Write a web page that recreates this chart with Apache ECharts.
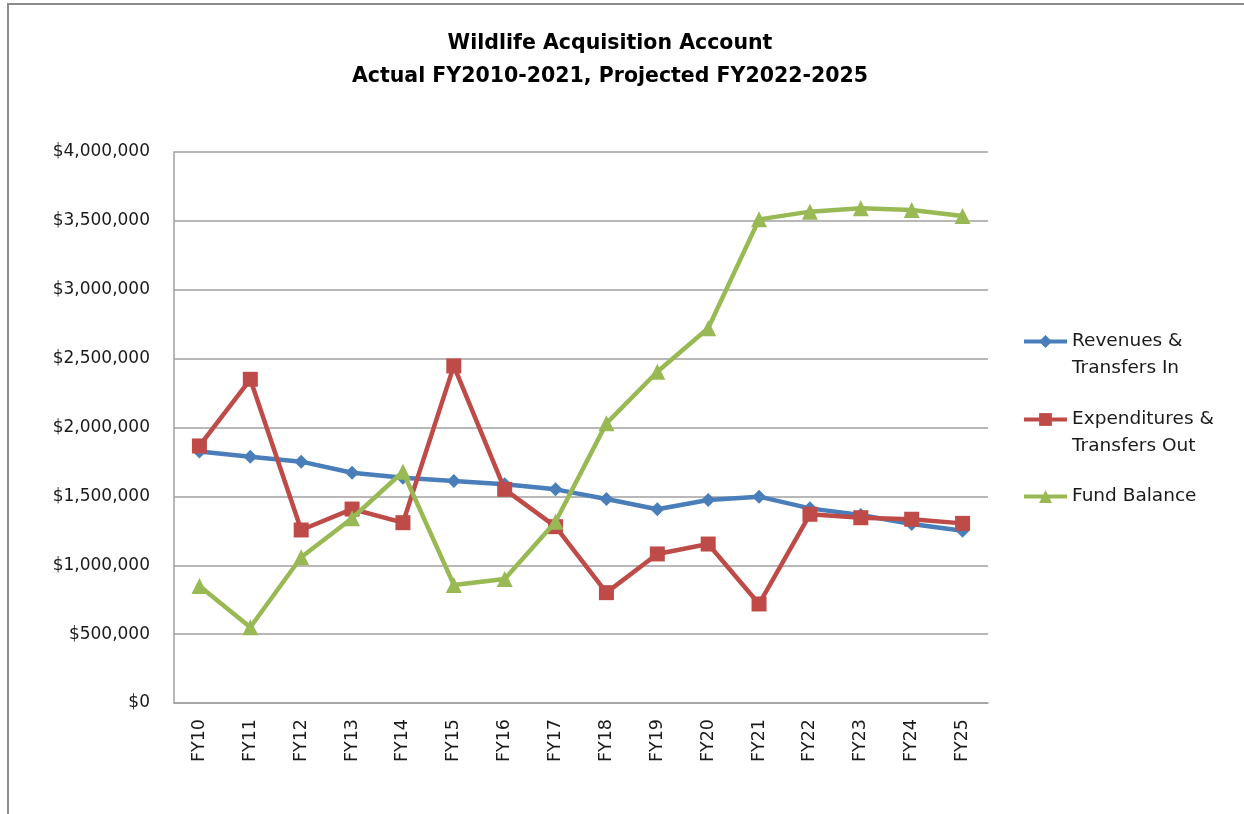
<!DOCTYPE html>
<html>
<head>
<meta charset="utf-8">
<script src="https://cdn.jsdelivr.net/npm/echarts@6/dist/echarts.min.js"></script>
<style>
html,body{margin:0;padding:0;background:#fff;}
#chart{width:1244px;height:814px;}
</style>
</head>
<body>
<div id="chart"></div>
<script>
const categories = ['FY10','FY11','FY12','FY13','FY14','FY15','FY16','FY17','FY18','FY19','FY20','FY21','FY22','FY23','FY24','FY25'];
const revenues = [1825000,1788000,1752000,1672000,1636000,1612000,1588000,1551000,1481000,1406000,1474000,1498000,1413000,1365000,1300000,1250000];
const expenditures = [1866000,2350000,1256000,1408000,1309000,2447000,1551000,1280000,801000,1082000,1154000,719000,1370000,1345000,1334000,1304000];
const fundBalance = [850000,550000,1058000,1341000,1679000,857000,900000,1316000,2030000,2405000,2720000,3511000,3567000,3591000,3579000,3535000];
const seriesNames = ['Revenues & Transfers In','Expenditures & Transfers Out','Fund Balance'];
const legendLabels = [' \nRevenues &\nTransfers In',' \nExpenditures &\nTransfers Out','Fund Balance'];
const titleText = 'Wildlife Acquisition Account\nActual FY2010-2021, Projected FY2022-2025';

const chart = echarts.init(document.getElementById('chart'), null, {renderer:'canvas'});
const FONT = 'DejaVu Sans';
const colors = ['#4A7EBB','#BE4B48','#98B954'];

function legendFor(i, top) {
  return {
    orient: 'vertical',
    left: 1022,
    top: top,
    padding: 0,
    itemWidth: 43,
    itemHeight: 16,
    itemGap: 0,
    data: [seriesNames[i]],
    formatter: () => legendLabels[i],
    lineStyle: { width: 4 },
    textStyle: { fontFamily: FONT, fontSize: 18.5, color: '#1a1a1a', lineHeight: 27 }
  };
}

const option = {
  backgroundColor: '#fff',
  animation: false,
  title: {
    text: titleText,
    left: 610,
    top: 27,
    padding: 0,
    textAlign: 'center',
    textStyle: { fontFamily: FONT, fontWeight: 'bold', fontSize: 20.5, lineHeight: 33, color: '#000' }
  },
  graphic: [{
    type: 'rect',
    shape: { x: 8, y: 4, width: 1400, height: 1000 },
    style: { fill: 'none', stroke: '#8c8c8c', lineWidth: 2 },
    silent: true
  }],
  legend: [ legendFor(0, 301), legendFor(1, 379), legendFor(2, 483) ],
  grid: { left: 174, right: 256, top: 152, bottom: 111 },
  xAxis: {
    type: 'category',
    data: categories,
    boundaryGap: true,
    axisLine: { lineStyle: { color: '#a0a0a0', width: 1.5 } },
    axisTick: { show: false },
    axisLabel: { rotate: 90, margin: 16, fontFamily: FONT, fontSize: 17.5, color: '#1a1a1a' }
  },
  yAxis: {
    type: 'value',
    min: 0, max: 4000000, interval: 500000,
    axisLine: { show: true, lineStyle: { color: '#a0a0a0', width: 1.5 } },
    axisTick: { show: false },
    splitLine: { lineStyle: { color: '#a0a0a0', width: 1.5 } },
    axisLabel: {
      margin: 24, fontFamily: FONT, fontSize: 17, color: '#1a1a1a',
      formatter: v => '$' + v.toLocaleString('en-US')
    }
  },
  series: [
    { name: seriesNames[0], type: 'line', data: revenues, color: colors[0],
      symbol: 'diamond', symbolSize: 14, lineStyle: { width: 4.5 }, z: 2 },
    { name: seriesNames[1], type: 'line', data: expenditures, color: colors[1],
      symbol: 'rect', symbolSize: 15, lineStyle: { width: 4.5 }, z: 3 },
    { name: seriesNames[2], type: 'line', data: fundBalance, color: colors[2],
      symbol: 'triangle', symbolSize: 16, lineStyle: { width: 4.5 }, z: 4 }
  ]
};
chart.setOption(option);
</script>
</body>
</html>
